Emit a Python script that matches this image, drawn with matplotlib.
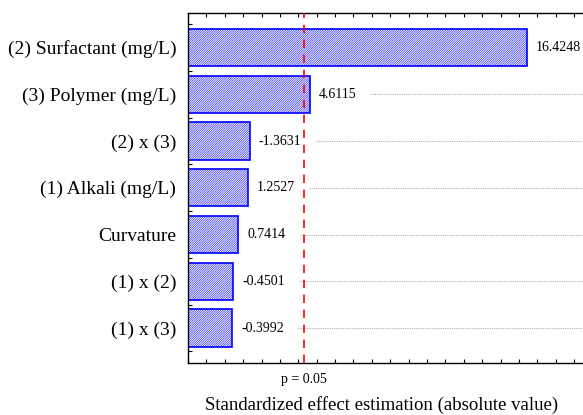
import matplotlib
matplotlib.use("Agg")
import matplotlib.pyplot as plt
from matplotlib.ticker import MultipleLocator

plt.rcParams['font.family'] = ['Liberation Serif', 'DejaVu Serif']
plt.rcParams['hatch.color'] = '#4646ff'
plt.rcParams['hatch.linewidth'] = 0.4

# effects, sorted by absolute value (top to bottom)
factors = ['(2) Surfactant (mg/L)', '(3) Polymer (mg/L)', '(2) x (3)',
           '(1) Alkali (mg/L)', 'Curvature', '(1) x (2)', '(1) x (3)']
effects = [16.4248, 4.6115, -1.3631, 1.2527, 0.7414, -0.4501, -0.3992]
p_crit = 4.303   # t(0.025, 2 df)
x_start = -2

fig = plt.figure(figsize=(5.83, 4.15), dpi=100)
ax = fig.add_axes([0.3225, 0.126, 0.678, 0.843])

ypos = list(range(len(factors)))
widths = [abs(e) - x_start for e in effects]
ax.barh(ypos, widths, left=x_start, height=0.8, color='white',
        edgecolor='blue', linewidth=1.2, hatch='/' * 15, zorder=2)

ax.axvline(p_crit, color='red', linestyle=(0, (5, 4)), linewidth=1.2, zorder=3)

ax.set_xlim(x_start, 19.5)
ax.set_ylim(len(factors) - 0.26, -0.74)
ax.set_yticks(ypos)
ax.set_yticklabels(factors, fontsize=14)
ax.yaxis.set_minor_locator(MultipleLocator(0.25))
ax.xaxis.set_major_locator(MultipleLocator(1))
ax.tick_params(axis='x', which='both', direction='in', top=True, bottom=True,
               labelbottom=False, length=3, width=0.8)
ax.tick_params(axis='y', which='major', direction='in', length=0, pad=8.5)
ax.tick_params(axis='y', which='minor', direction='in', length=3, width=0.8)
ax.spines['right'].set_visible(False)
for s in ['left', 'top', 'bottom']:
    ax.spines[s].set_linewidth(1.0)

# value labels
texts = []
for y, e, w in zip(ypos, effects, widths):
    t = ax.annotate(f'{e:.4f}', xy=(x_start + w, y), xytext=(6.5, 0),
                    textcoords='offset points', ha='left', va='center',
                    fontsize=10, zorder=4)
    texts.append(t)

# dotted leader lines from label to the right edge
fig.canvas.draw()
r = fig.canvas.get_renderer()
inv = ax.transData.inverted()
for y, t in zip(ypos, texts):
    bb = t.get_window_extent(r)
    x0 = inv.transform((bb.x1 + 14, 0))[0]
    if x0 < 19.5:
        ax.hlines(y, x0, 19.5, colors='#b0b0b0', linestyles=(0, (1, 1)),
                  linewidth=0.8, zorder=1)

ax.text(p_crit, len(factors) - 0.26 + 0.22, 'p = 0.05', ha='center', va='top',
        fontsize=10)
ax.set_xlabel('Standardized effect estimation (absolute value)', fontsize=13.5)
ax.xaxis.set_label_coords(0.489, -0.122)
ax.xaxis.label.set_va('center')

fig.savefig('out.png', dpi=100)
